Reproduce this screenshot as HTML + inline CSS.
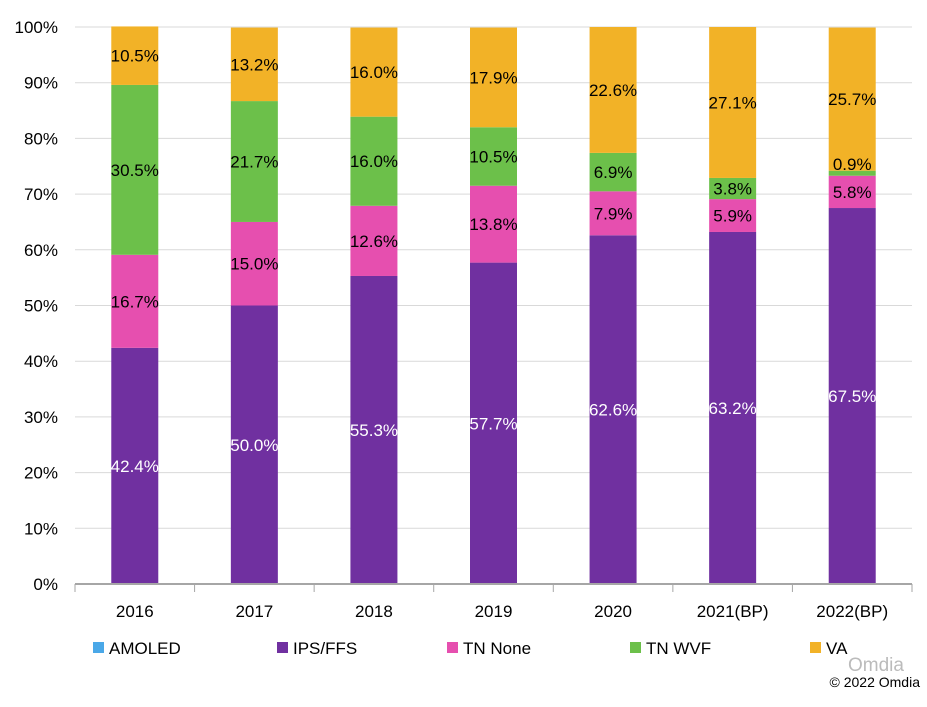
<!DOCTYPE html>
<html><head><meta charset="utf-8"><style>
body{margin:0;background:#fff;}
svg text{font-family:"Liberation Sans",sans-serif;}
</style></head><body>
<svg id="chart" width="927" height="702"></svg>
<script>
const categories=["2016","2017","2018","2019","2020","2021(BP)","2022(BP)"];
const ips=[42.4,50.0,55.3,57.7,62.6,63.2,67.5];
const tnNone=[16.7,15.0,12.6,13.8,7.9,5.9,5.8];
const tnWvf=[30.5,21.7,16.0,10.5,6.9,3.8,0.9];
const va=[10.5,13.2,16.0,17.9,22.6,27.1,25.7];
const yTicks=[0,10,20,30,40,50,60,70,80,90,100];
const seriesNames=["AMOLED","IPS/FFS","TN None","TN WVF","VA"];
const colors=["#4aa8e8","#7030a0","#e64faf","#6cc04a","#f2b227"];

const svg=document.getElementById('chart');
const NS="http://www.w3.org/2000/svg";
const x0=75,x1=912,y0=584,y1=27;
const bw=(x1-x0)/categories.length;
const ys=v=>y0-(v/100)*(y0-y1);
const xs=i=>x0+bw*(i+0.5);
function mk(t,a,txt){const e=document.createElementNS(NS,t);for(const k in a)e.setAttribute(k,a[k]);if(txt!==undefined)e.textContent=txt;svg.appendChild(e);return e;}

yTicks.forEach(t=>{
  const g=mk('line',{x1:x0,x2:x1,y1:ys(t),y2:ys(t),stroke:'#d9d9d9','stroke-width':1});
  
  
  const l=mk('text',{x:58,y:ys(t)+6,'text-anchor':'end','font-size':17,fill:'#000'},t+'%');
  
  
});

const stacks=[[ips,1,'#fff'],[tnNone,2,'#000'],[tnWvf,3,'#000'],[va,4,'#000']];
const labels=[];
categories.forEach((c,i)=>{
  let base=0;
  stacks.forEach(([arr,ci,tc])=>{
    const v=arr[i];
    const r=mk('rect',{x:xs(i)-23.5,y:ys(base+v),width:47,height:ys(base)-ys(base+v),fill:colors[ci]});
    
    
    labels.push([xs(i),ys(base+v/2)+6+(v<2?-9:0),tc,v]);
    base+=v;
  });
  const tk=mk('line',{x1:x0+bw*i,x2:x0+bw*i,y1:y0,y2:y0+8,stroke:'#a6a6a6'});
  
  
  const xl=mk('text',{x:xs(i),y:617,'text-anchor':'middle','font-size':17,fill:'#000'},c);
  
  
});
labels.forEach(([lx,ly,tc,v])=>{
  const lt=mk('text',{x:lx,y:ly,'text-anchor':'middle','font-size':17,fill:tc},v.toFixed(1)+'%');
  
  
});
const lt2=mk('line',{x1:x1,x2:x1,y1:y0,y2:y0+8,stroke:'#a6a6a6'});


const ax=mk('line',{x1:x0,x2:x1,y1:y0,y2:y0,stroke:'#a6a6a6','stroke-width':2});



const legX=[93,277,447,630,810];
seriesNames.forEach((n,k)=>{
  const r=mk('rect',{x:legX[k],y:642,width:11,height:11,fill:colors[k]});
  
  
  const t=mk('text',{x:legX[k]+16,y:654,'font-size':17,fill:'#000'},n);
  
  
});
const w=mk('text',{x:848,y:671,'font-size':19,fill:'#bbb'},'Omdia');


const cp=mk('text',{x:920,y:687,'text-anchor':'end','font-size':14,fill:'#000'},'© 2022 Omdia');


</script>
</body></html>
